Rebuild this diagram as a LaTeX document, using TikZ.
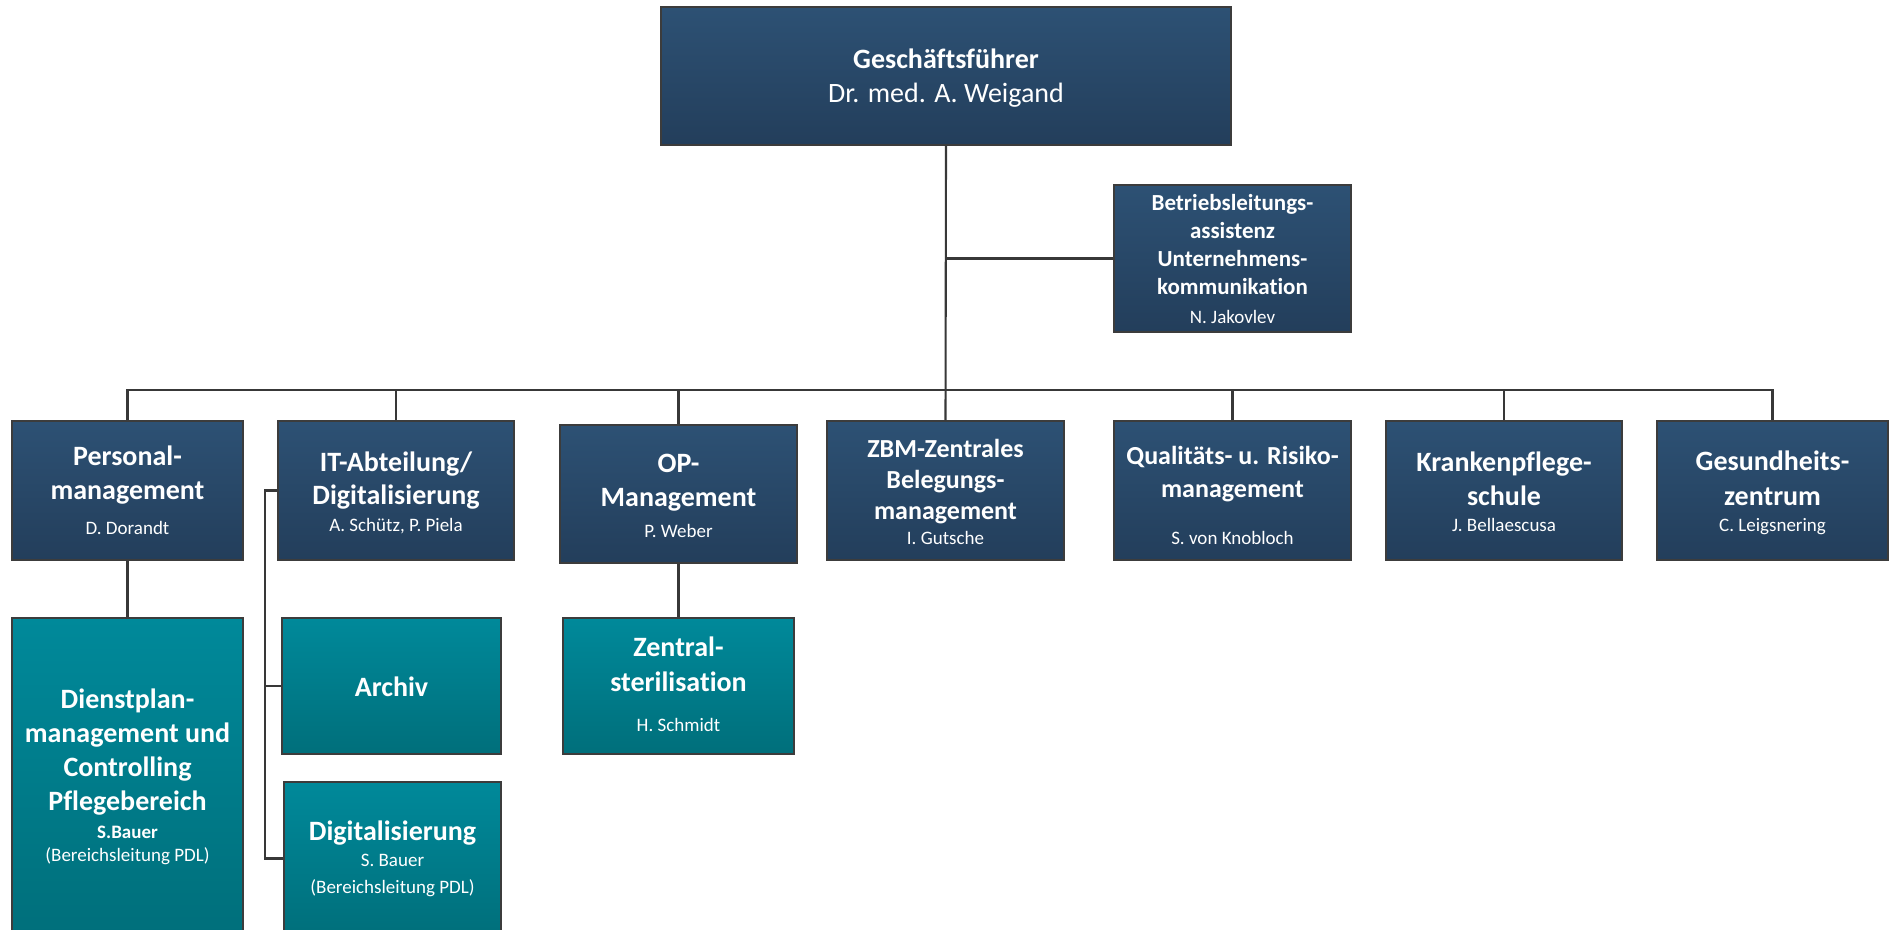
\documentclass[tikz,border=0pt]{standalone}
\usepackage{fontspec}
\setmainfont{Carlito}[Ligatures=NoCommon]
\definecolor{bluetop}{HTML}{2D5174}
\definecolor{bluebot}{HTML}{233E5B}
\definecolor{tealtop}{HTML}{00899A}
\definecolor{tealbot}{HTML}{006F7B}
\definecolor{boxline}{HTML}{3C3C3C}
\definecolor{conn}{HTML}{383838}
\begin{document}
\begin{tikzpicture}[x=1pt,y=-1pt,
  bluebox/.style={rectangle,draw=boxline,line width=1.2pt,inner sep=0pt,top color=bluetop,bottom color=bluebot},
  tealbox/.style={rectangle,draw=boxline,line width=1.2pt,inner sep=0pt,top color=tealtop,bottom color=tealbot},
  tx/.style={text=white,anchor=base,inner sep=0pt},
  hd/.style={tx,font=\bfseries\fontsize{28}{34}\selectfont},
  hdm/.style={tx,font=\bfseries\fontsize{26}{31}\selectfont},
  hds/.style={tx,font=\bfseries\fontsize{23}{28}\selectfont},
  rg/.style={tx,font=\fontsize{28}{34}\selectfont},
  nm/.style={tx,font=\fontsize{19}{23}\selectfont},
  nmb/.style={tx,font=\bfseries\fontsize{19}{23}\selectfont},
  cn/.style={draw=conn,line width=2.1pt}]
\useasboundingbox (0,0) rectangle (1898,929);
\fill[white] (0,0) rectangle (1898,929);

% boxes
\node[bluebox,minimum width=570pt,minimum height=138pt] (gf) at (946,76) {};
\node[bluebox,minimum width=237pt,minimum height=147pt] (ba) at (1232.5,258.5) {};
\node[bluebox,minimum width=231pt,minimum height=139pt] (pm) at (127.5,490.5) {};
\node[bluebox,minimum width=236pt,minimum height=139pt] (it) at (396,490.5) {};
\node[bluebox,minimum width=237pt,minimum height=138pt] (op) at (678.5,494) {};
\node[bluebox,minimum width=237pt,minimum height=139pt] (zb) at (945.5,490.5) {};
\node[bluebox,minimum width=237pt,minimum height=139pt] (qr) at (1232.5,490.5) {};
\node[bluebox,minimum width=236pt,minimum height=139pt] (kp) at (1504,490.5) {};
\node[bluebox,minimum width=231pt,minimum height=139pt] (gz) at (1772.5,490.5) {};
\node[tealbox,minimum width=231pt,minimum height=317pt] (dp) at (127.5,776.5) {};
\node[tealbox,minimum width=219pt,minimum height=136pt] (ar) at (391.5,686) {};
\node[tealbox,minimum width=217pt,minimum height=153pt] (dg) at (392.5,858.5) {};
\node[tealbox,minimum width=231pt,minimum height=136pt] (zs) at (678.5,686) {};

% connectors
\coordinate (bus) at (945,390);
\coordinate (itx) at (265,490.5);
\draw[cn] (gf.south) -- (zb.north);
\draw[cn] (gf.south |- ba.west) -- (ba.west);
\draw[cn] (pm.north) -- (pm.north |- bus) -- (gz.north |- bus) -- (gz.north);
\draw[cn] (it.north) -- (it.north |- bus);
\draw[cn] (op.north) -- (op.north |- bus);
\draw[cn] (qr.north) -- (qr.north |- bus);
\draw[cn] (kp.north) -- (kp.north |- bus);
\draw[cn] (pm.south) -- (dp.north);
\draw[cn] (op.south) -- (zs.north);
\draw[cn] (it.west) -- (itx) |- (dg.west);
\draw[cn] (ar.west -| itx) -- (ar.west);

% texts
\node[hd] (gf1) at (946,68) {Geschäftsführer};
\node[rg] (gf2) at (946,102) {Dr. med. A. Weigand};

\node[hds] (ba1) at (1232.5,210) {Betriebsleitungs-};
\node[hds] (ba2) at (1232.5,238.5) {assistenz};
\node[hds] (ba3) at (1232.5,266.5) {Unternehmens-};
\node[hds] (ba4) at (1232.5,294.5) {kommunikation};
\node[nm] (ba5) at (1232.5,323.5) {N. Jakovlev};

\node[hd] (pm1) at (127.5,465) {Personal-};
\node[hd] (pm2) at (127.5,499) {management};
\node[nm] (pm3) at (127.5,534) {D. Dorandt};

\node[hd] (it1) at (396,471) {IT-Abteilung/};
\node[hd] (it2) at (396,504) {Digitalisierung};
\node[nm] (it3) at (396,531) {A. Schütz, P. Piela};

\node[hd] (op1) at (678.5,472) {OP-};
\node[hd] (op2) at (678.5,506) {Management};
\node[nm] (op3) at (678.5,537) {P. Weber};

\node[hdm] (zb1) at (945.5,457) {ZBM-Zentrales};
\node[hdm] (zb2) at (945.5,488) {Belegungs-};
\node[hdm] (zb3) at (945.5,519) {management};
\node[nm] (zb4) at (945.5,544) {I. Gutsche};

\node[hdm] (qr1) at (1232.5,464) {Qualitäts- u. Risiko-};
\node[hdm] (qr2) at (1232.5,497) {management};
\node[nm] (qr3) at (1232.5,544) {S. von Knobloch};

\node[hd] (kp1) at (1504,471) {Krankenpflege-};
\node[hd] (kp2) at (1504,505) {schule};
\node[nm] (kp3) at (1504,531) {J. Bellaescusa};

\node[hd] (gz1) at (1772.5,470.5) {Gesundheits-};
\node[hd] (gz2) at (1772.5,505) {zentrum};
\node[nm] (gz3) at (1772.5,531) {C. Leigsnering};

\node[hd] (dp1) at (127.5,708) {Dienstplan-};
\node[hd] (dp2) at (127.5,742) {management und};
\node[hd] (dp3) at (127.5,776) {Controlling};
\node[hd] (dp4) at (127.5,810) {Pflegebereich};
\node[nmb] (dp5) at (127.5,838) {S.Bauer};
\node[nm] (dp6) at (127.5,861) {(Bereichsleitung PDL)};

\node[hd] (ar1) at (391.5,696) {Archiv};

\node[hd] (dg1) at (392.5,840) {Digitalisierung};
\node[nm] (dg2) at (392.5,866) {S. Bauer};
\node[nm] (dg3) at (392.5,893) {(Bereichsleitung PDL)};

\node[hd] (zs1) at (678.5,656) {Zentral-};
\node[hd] (zs2) at (678.5,691) {sterilisation};
\node[nm] (zs3) at (678.5,731) {H. Schmidt};
\end{tikzpicture}
\end{document}
